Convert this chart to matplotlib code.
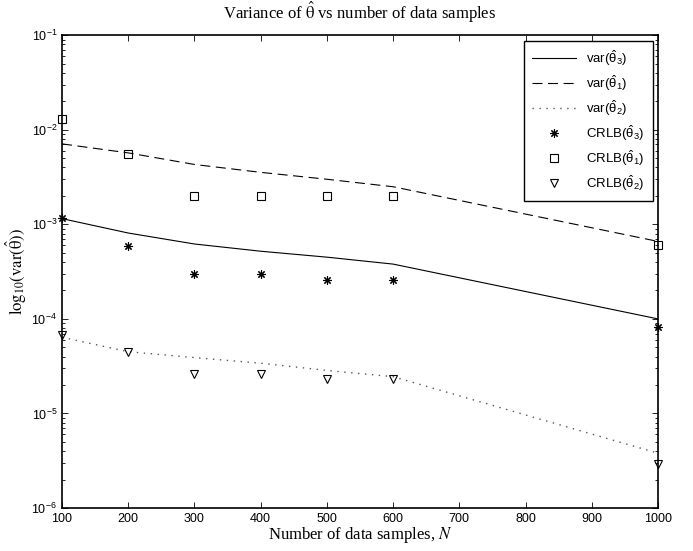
import numpy as np
import matplotlib
matplotlib.use('Agg')
import matplotlib.pyplot as plt
from matplotlib import rcParams
from matplotlib.ticker import LogLocator, NullFormatter

rcParams['font.family'] = ['Liberation Sans', 'DejaVu Sans']
rcParams['mathtext.fontset'] = 'custom'
rcParams['mathtext.rm'] = 'Liberation Sans'
rcParams['mathtext.it'] = 'Liberation Sans:italic'
rcParams['mathtext.bf'] = 'Liberation Sans:bold'
rcParams['axes.unicode_minus'] = False

# data
N = [100, 200, 300, 400, 500, 600, 1000]
var_t3 = [1.15e-3, 8.1e-4, 6.2e-4, 5.2e-4, 4.5e-4, 3.8e-4, 1.0e-4]
var_t1 = [7.1e-3, 5.7e-3, 4.3e-3, 3.55e-3, 3.0e-3, 2.5e-3, 6.6e-4]
var_t2 = [6.4e-5, 4.5e-5, 3.9e-5, 3.4e-5, 2.85e-5, 2.45e-5, 3.8e-6]
crlb_t3 = [1.16e-3, 5.9e-4, 2.95e-4, 2.95e-4, 2.6e-4, 2.6e-4, 8.3e-5]
crlb_t1 = [1.3e-2, 5.5e-3, 2.0e-3, 2.0e-3, 2.0e-3, 2.0e-3, 6.0e-4]
crlb_t2 = [6.7e-5, 4.45e-5, 2.6e-5, 2.6e-5, 2.3e-5, 2.3e-5, 2.9e-6]
x_ticks = [100, 200, 300, 400, 500, 600, 700, 800, 900, 1000]

fig = plt.figure(figsize=(6.93, 5.51), dpi=100)
ax = fig.add_axes([0.0895, 0.078, 0.86, 0.858])

lw = 0.8
ax.plot(N, var_t3, color='black', linestyle='-', linewidth=lw, label=r'var($\hat{\mathrm{\theta}}_3$)')
ax.plot(N, var_t1, color='black', linestyle=(0, (9, 5)), linewidth=lw, label=r'var($\hat{\mathrm{\theta}}_1$)')
ax.plot(N, var_t2, color='#555555', linestyle=(0, (1, 4)), linewidth=1.0, label=r'var($\hat{\mathrm{\theta}}_2$)')
ax.plot(N, crlb_t3, color='black', linestyle='none', marker=(8, 2, 0), markersize=6,
        markeredgewidth=0.8, label=r'CRLB($\hat{\mathrm{\theta}}_3$)', clip_on=False)
ax.plot(N, crlb_t1, color='black', linestyle='none', marker='s', markersize=5.5,
        markerfacecolor='none', markeredgewidth=0.8, label=r'CRLB($\hat{\mathrm{\theta}}_1$)', clip_on=False)
ax.plot(N, crlb_t2, color='black', linestyle='none', marker='v', markersize=6,
        markerfacecolor='none', markeredgewidth=0.8, label=r'CRLB($\hat{\mathrm{\theta}}_2$)', clip_on=False)

ax.set_yscale('log')
ax.set_xlim(100, 1000)
ax.set_ylim(1e-6, 1e-1)
ax.set_xticks(x_ticks)
ax.yaxis.set_major_locator(LogLocator(base=10, numticks=10))
ax.yaxis.set_minor_locator(LogLocator(base=10, subs=np.arange(2, 10), numticks=10))
ax.yaxis.set_minor_formatter(NullFormatter())
ax.tick_params(which='both', direction='in', top=True, right=True, labelsize=9)
ax.tick_params(which='major', length=4, width=0.6)
ax.tick_params(which='minor', length=2.5, width=0.6)
for sp in ax.spines.values():
    sp.set_linewidth(1.2)

ax.set_title(r'Variance of $\hat{\mathrm{\theta}}$ vs number of data samples', fontsize=12,
             family='Liberation Serif', math_fontfamily='stix', pad=12)
ax.set_xlabel(r'Number of data samples, $N$', fontsize=12, family='Liberation Serif',
              math_fontfamily='stix', labelpad=0)
ax.set_ylabel(r'$\mathrm{log}_{10}(\mathrm{var}(\hat{\mathrm{\theta}}))$', fontsize=12,
              family='Liberation Serif', math_fontfamily='stix', labelpad=2)

leg = ax.legend(loc='upper right', fontsize=9.5, handlelength=3.3, handletextpad=0.8,
                borderpad=0.6, labelspacing=0.4, fancybox=False, framealpha=1,
                edgecolor='black', borderaxespad=0.4)
leg.get_frame().set_linewidth(1.0)

fig.savefig('out.png', dpi=100)
